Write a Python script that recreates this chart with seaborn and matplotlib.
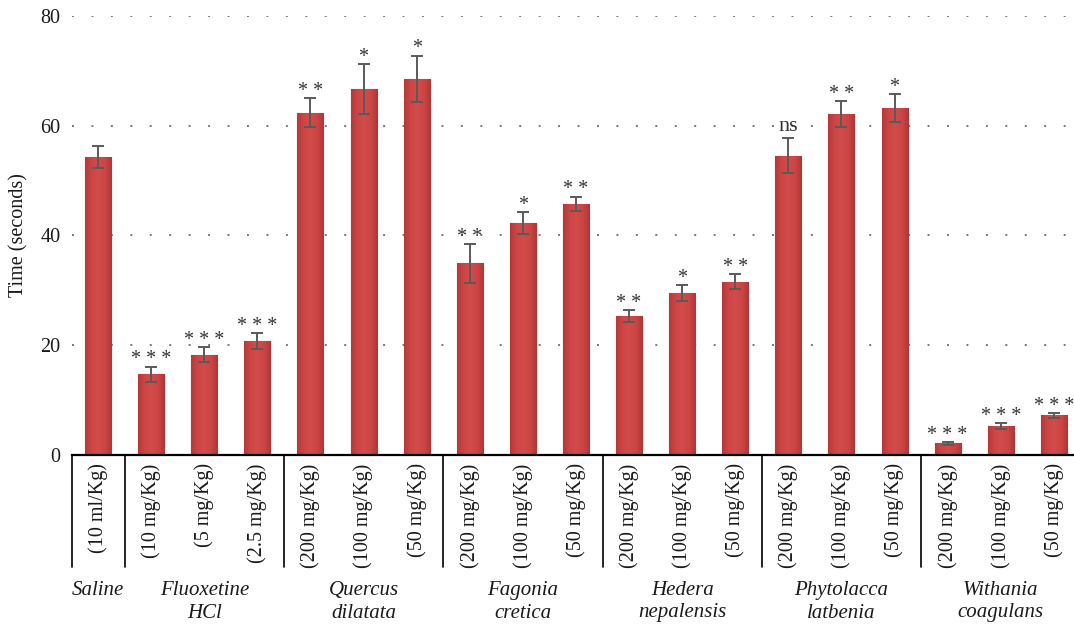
import matplotlib
matplotlib.use("Agg")
import matplotlib.pyplot as plt
import seaborn as sns
import pandas as pd
import numpy as np
from matplotlib.colors import LinearSegmentedColormap

groups = ["Saline", "Fluoxetine\nHCl", "Quercus\ndilatata", "Fagonia\ncretica",
          "Hedera\nnepalensis", "Phytolacca\nlatbenia", "Withania\ncoagulans"]
group_sizes = [1, 3, 3, 3, 3, 3, 3]
doses = ["(10 ml/Kg)",
         "(10 mg/Kg)", "(5 mg/Kg)", "(2.5 mg/Kg)",
         "(200 mg/Kg)", "(100 mg/Kg)", "(50 mg/Kg)",
         "(200 mg/Kg)", "(100 mg/Kg)", "(50 mg/Kg)",
         "(200 mg/Kg)", "(100 mg/Kg)", "(50 mg/Kg)",
         "(200 mg/Kg)", "(100 mg/Kg)", "(50 mg/Kg)",
         "(200 mg/Kg)", "(100 mg/Kg)", "(50 mg/Kg)"]
means = [54.3,
         14.7, 18.3, 20.8,
         62.4, 66.7, 68.6,
         34.9, 42.3, 45.8,
         25.3, 29.5, 31.6,
         54.5, 62.1, 63.2,
         2.1, 5.3, 7.2]
errors = [2.0,
          1.4, 1.3, 1.4,
          2.6, 4.5, 4.2,
          3.5, 2.0, 1.3,
          1.1, 1.5, 1.3,
          3.2, 2.4, 2.6,
          0.3, 0.5, 0.5]
signif = ["",
          "* * *", "* * *", "* * *",
          "* *", "*", "*",
          "* *", "*", "* *",
          "* *", "*", "* *",
          "ns", "* *", "*",
          "* * *", "* * *", "* * *"]

group_of = []
for g, n in zip(groups, group_sizes):
    group_of += [g] * n
ids = [f"{i}" for i in range(len(doses))]
df = pd.DataFrame({"id": ids, "dose": doses, "group": group_of, "time": means})

sns.set_style("white")
plt.rcParams["font.family"] = ["Liberation Serif", "DejaVu Serif"]

fig = plt.figure(figsize=(10.74, 6.31), dpi=100)
ax = fig.add_axes([71.5 / 1074, 1 - 455 / 631, 1 - 71.5 / 1074, 439 / 631])

sns.barplot(data=df, x="id", y="time", color="#cc4545", width=0.49,
            edgecolor="#a33131", linewidth=0.8, saturation=1, errorbar=None, ax=ax)

# gentle cylinder-like shading on each bar
cmap = LinearSegmentedColormap.from_list(
    "barshade", ["#b43939", "#cd4646", "#d34b4b", "#cc4545", "#b03636"])
grad = np.linspace(0, 1, 64).reshape(1, -1)
for p in list(ax.patches):
    bx, by = p.get_x(), p.get_y()
    bw, bh = p.get_width(), p.get_height()
    im = ax.imshow(grad, cmap=cmap, aspect="auto",
                   extent=[bx, bx + bw, by, by + bh], zorder=p.get_zorder() + 0.1)
    im.set_clip_path(p)

x = np.arange(len(means))
ax.errorbar(x, means, yerr=errors, fmt="none", ecolor="#5a5a5a",
            elinewidth=1.4, capsize=4, capthick=1.4, zorder=4)

for xi, m, e, s in zip(x, means, errors, signif):
    if s:
        is_ns = s == "ns"
        ax.annotate(s, (xi, m + e), xytext=(0, 2 if is_ns else -2),
                    textcoords="offset points", ha="center", va="bottom",
                    fontsize=16 if is_ns else 14.5, color="#333333")

ax.set_ylim(0, 80)
ax.set_xlim(-0.5, -0.5 + (1074 - 71.5) / 53.1)
ax.set_yticks([0, 20, 40, 60, 80])
ax.set_yticklabels(["0", "20", "40", "60", "80"])
ax.tick_params(axis="y", length=0, pad=8, labelsize=14.5, labelcolor="#1a1a1a")
ax.set_xticks(x)
ax.set_xticklabels(doses, rotation=90, va="top", ha="center")
ax.tick_params(axis="x", length=0, pad=6, labelsize=14.5, labelcolor="#1a1a1a")
ax.set_xlabel("")
ax.set_ylabel("")

for v in [20, 40, 60, 80]:
    ax.axhline(v, color="#777777", linestyle=(0, (1, 9)), linewidth=1.4, zorder=0)

for side in ["left", "right", "top"]:
    ax.spines[side].set_visible(False)
ax.spines["bottom"].set_color("black")
ax.spines["bottom"].set_linewidth(1.6)
ax.spines["bottom"].set_zorder(5)

trans = ax.get_xaxis_transform()
bounds = [-0.5]
pos = -0.5
for n in group_sizes:
    pos += n
    bounds.append(pos)
for b in bounds[:-1]:
    ax.plot([b, b], [0, -112 / 439], transform=trans, color="black",
            linewidth=1.2, clip_on=False)

start = 0
for g, n in zip(groups, group_sizes):
    center = start + (n - 1) / 2
    ax.text(center, -126 / 439, g, transform=trans, ha="center", va="top",
            fontsize=15, style="italic", color="#1a1a1a", linespacing=1.25)
    start += n

fig.text(19 / 1074, 1 - 235 / 631, "Time (seconds)", rotation=90,
         ha="center", va="center", fontsize=14.5, color="#1a1a1a")

fig.savefig("out.png", dpi=100)
